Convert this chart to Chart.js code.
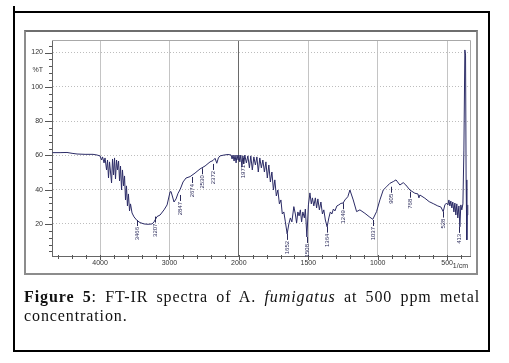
<!DOCTYPE html>
<html>
<head>
<meta charset="utf-8">
<script src="https://cdn.jsdelivr.net/npm/chart.js@4.4.0/dist/chart.umd.min.js"></script>
<style>
  html, body { margin: 0; padding: 0; background: #fff; }
  body { width: 509px; height: 363px; position: relative; overflow: hidden; }
  .box { position: absolute; left: 13px; top: 11px; width: 473px; height: 337px; border: 2px solid #000; }
  .nub { position: absolute; left: 13px; top: 6px; width: 2px; height: 6px; background: #000; }
  .frame { position: absolute; left: 24px; top: 30px; width: 450px; height: 241px; border: 2px solid #8c8c8c; border-top-color: #6e6e6e; }
  canvas { position: absolute; left: 0; top: 0; }
  .caption { position: absolute; left: 24px; top: 288px; width: 456px; font-family: "Liberation Serif", serif; font-size: 16px; letter-spacing: 0.9px; line-height: 18.5px; color: #111; }
  .l1 { text-align: justify; text-align-last: justify; white-space: nowrap; }
</style>
</head>
<body>
<div class="nub"></div>
<div class="box"></div>
<div class="frame"></div>
<canvas id="chart" width="509" height="363"></canvas>
<div class="caption">
  <div class="l1"><b>Figure 5</b>: FT-IR spectra of A. <i>fumigatus</i> at 500 ppm metal</div>
  <div>concentration.</div>
</div>
<script>
// spectrum (1/cm, %T)
const wavenumbers = [
  4685, 4576, 4476, 4403, 4331, 4216, 4101, 4043, 4000, 3978, 3964, 3942, 3928, 3906, 3892, 3878,
  3863, 3849, 3834, 3820, 3805, 3791, 3777, 3762, 3748, 3733, 3719, 3705, 3690, 3677, 3661, 3647,
  3633, 3619, 3605, 3591, 3575, 3561, 3539, 3510, 3467, 3424, 3366, 3308, 3251, 3222, 3179, 3135,
  3078, 3034, 2991, 2977, 2934, 2905, 2876, 2847, 2804, 2761, 2703, 2631, 2559, 2487, 2415, 2372,
  2343, 2318, 2295, 2271, 2213, 2156, 2112, 2098, 2084, 2069, 2055, 2040, 2026, 2012, 2000, 1993,
  1986, 1978, 1971, 1964, 1957, 1946, 1935, 1924, 1914, 1903, 1892, 1881, 1870, 1860, 1849, 1838,
  1827, 1816, 1805, 1795, 1784, 1773, 1762, 1751, 1741, 1730, 1719, 1708, 1697, 1687, 1676, 1665,
  1652, 1640, 1629, 1618, 1604, 1593, 1584, 1575, 1566, 1557, 1548, 1539, 1528, 1521, 1510, 1499,
  1488, 1478, 1470, 1460, 1449, 1440, 1431, 1420, 1409, 1398, 1388, 1377, 1364, 1352, 1341, 1330,
  1319, 1308, 1294, 1280, 1265, 1249, 1236, 1215, 1200, 1176, 1152, 1128, 1092, 1056, 1035, 1008,
  984, 960, 936, 912, 888, 868, 840, 816, 797, 768, 732, 710, 703, 696, 660, 629,
  596, 567, 545, 528, 516, 504, 494, 487, 480, 473, 466, 459, 451, 444, 437, 430,
  423, 415, 408, 401, 394, 386, 379, 372, 367, 363, 358, 355, 351
]
const transmittance = [
  61.6, 61.6, 61.7, 61.2, 60.8, 60.6, 60.6, 60.2, 59.7, 57.3, 59.1, 55.6, 58.5, 51.5, 57.3, 46.8,
  56.2, 50.3, 43.9, 57.9, 48.6, 58.5, 46.2, 57.3, 51.5, 56.7, 45.1, 53.8, 39.8, 51.5, 42.2, 48.0,
  34.0, 42.2, 30.5, 37.5, 27.6, 31.7, 26.4, 24.1, 22.0, 20.8, 20.0, 19.8, 20.0, 21.2, 24.3, 25.2,
  28.2, 31.1, 38.7, 38.9, 32.8, 34.6, 37.9, 40.0, 44.5, 46.8, 47.6, 49.7, 52.1, 53.8, 56.2, 57.0,
  58.3, 55.4, 58.5, 59.7, 60.2, 60.5, 60.2, 57.9, 60.2, 56.7, 60.2, 55.6, 60.2, 57.3, 60.2, 56.2,
  60.2, 53.2, 59.7, 55.0, 60.2, 55.6, 59.7, 52.7, 59.7, 51.5, 59.1, 54.4, 59.1, 50.3, 58.5, 52.7,
  57.3, 50.3, 56.2, 46.8, 54.4, 44.5, 50.3, 39.8, 45.7, 36.3, 39.8, 31.7, 34.0, 25.8, 27.0, 21.2,
  14.2, 20.0, 23.5, 21.2, 30.1, 25.8, 20.6, 27.0, 24.7, 28.2, 21.2, 27.0, 23.5, 28.7, 12.4, 31.1,
  38.1, 31.7, 35.2, 30.5, 35.2, 29.3, 34.6, 28.2, 32.8, 25.8, 28.2, 22.3, 18.3, 23.5, 27.0, 25.8,
  28.7, 27.6, 30.5, 31.1, 32.0, 32.2, 34.0, 35.9, 39.8, 34.0, 27.2, 28.2, 26.2, 23.9, 22.7, 27.2,
  34.0, 39.8, 41.7, 43.7, 44.7, 45.7, 42.7, 44.1, 42.7, 39.8, 37.9, 37.5, 35.2, 36.9, 35.0, 33.0,
  31.7, 30.5, 29.9, 27.2, 31.1, 32.2, 31.1, 34.0, 30.5, 33.4, 29.3, 32.8, 27.0, 32.2, 25.2, 31.7,
  23.5, 30.5, 18.3, 31.1, 28.2, 31.7, 63.1, 121.5, 118.5, 45.7, 10.7, 25.2, 31.1
]

// peak marks: position, %T where the leader starts, printed text
const peakWn = [3466, 3207, 2847, 2674, 2530, 2372, 1971, 1652, 1508, 1364, 1249, 1037, 905, 768, 528, 413]
const peakTop = [22.3, 24.3, 36.9, 47.4, 52.5, 55.0, 58.5, 14.2, 12.4, 18.4, 32.1, 22.3, 41.7, 38.8, 27.2, 18.3]
const peakText = ["3466", "3207", "2847", "2674", "2530", "2372", "1971", "1652", "1508", "1364", "1249", "1037", "905", "768", "528", "413"]

// axes
const majorWn = [4000, 3000, 2000, 1500, 1000, 500]
const yLabels = [20, 40, 60, 80, 100, 120]
const WN_LEFT = 4692
const WN_RIGHT = 335
const Y_MIN = 1.3
const Y_MAX = 127.3
const Y_MINOR = 4
const U_MINOR = 200

// the instrument doubles the scale below 2000 1/cm
const toU = (w) => (w >= 2000 ? w : 2 * w - 2000)
const fromU = (u) => (u >= 2000 ? u : (u + 2000) / 2)

const uTicks = []
for (let u = -1200; u <= 4600; u += U_MINOR) uTicks.push(u)
const yTicks = [110]
for (let v = Y_MINOR; v < Y_MAX; v += Y_MINOR) yTicks.push(v)

const points = wavenumbers.map((w, i) => ({ x: toU(w), y: transmittance[i] }))

const decor = {
    id: "decor",
    afterDatasetsDraw(chart) {
        const { ctx, chartArea: a, scales } = chart
        const x = scales.x
        const y = scales.y
        ctx.save()

        // light frame top / right
        ctx.strokeStyle = "#a8a8a8"
        ctx.lineWidth = 1
        ctx.beginPath()
        ctx.moveTo(a.left, a.top + 0.5)
        ctx.lineTo(a.right + 0.5, a.top + 0.5)
        ctx.lineTo(a.right + 0.5, a.bottom)
        ctx.stroke()

        // tick marks
        ctx.strokeStyle = "#555"
        ctx.beginPath()
        yTicks.forEach((v) => {
            if (v === 110) return
            const py = Math.round(y.getPixelForValue(v)) + 0.5
            const len = v % 20 === 0 ? 7 : 3
            ctx.moveTo(a.left - len, py)
            ctx.lineTo(a.left, py)
        })
        uTicks.forEach((u) => {
            const px = Math.round(x.getPixelForValue(u)) + 0.5
            const len = majorWn.includes(fromU(u)) ? 4 : 3
            ctx.moveTo(px, a.bottom - 1)
            ctx.lineTo(px, a.bottom + len)
        })
        ctx.stroke()

        // peak labels
        ctx.font = '6px "Liberation Sans", Arial, sans-serif'
        ctx.fillStyle = "#2a2a5a"
        ctx.strokeStyle = "#2a2a5a"
        ctx.textAlign = "right"
        ctx.textBaseline = "middle"
        peakWn.forEach((w, i) => {
            const px = Math.round(x.getPixelForValue(toU(w))) + 0.5
            const py = y.getPixelForValue(peakTop[i])
            ctx.beginPath()
            ctx.moveTo(px, py)
            ctx.lineTo(px, py + 6)
            ctx.stroke()
            ctx.save()
            ctx.translate(px, py + 7)
            ctx.rotate(-Math.PI / 2)
            ctx.fillText(peakText[i], 0, 0)
            ctx.restore()
        })

        // unit
        ctx.font = '7px "Liberation Sans", Arial, sans-serif'
        ctx.fillStyle = "#333"
        ctx.textAlign = "right"
        ctx.textBaseline = "middle"
        ctx.fillText("1/cm", a.right - 2, a.bottom + 10)
        ctx.restore()
    },
}

new Chart(document.getElementById("chart"), {
    type: "scatter",
    data: {
        datasets: [
            {
                data: points,
                showLine: true,
                borderColor: "#2b2b66",
                borderWidth: 1,
                pointRadius: 0,
                tension: 0,
            },
        ],
    },
    options: {
        responsive: false,
        animation: false,
        layout: { padding: { left: 0, top: 40, right: 39, bottom: 87 } },
        plugins: { legend: { display: false }, tooltip: { enabled: false } },
        scales: {
            x: {
                type: "linear",
                reverse: true,
                min: toU(WN_RIGHT),
                max: toU(WN_LEFT),
                afterBuildTicks: (s) => {
                    s.ticks = uTicks.map((v) => ({ value: v }))
                },
                afterFit: (s) => {
                    s.height = 20
                },
                ticks: {
                    autoSkip: false,
                    maxRotation: 0,
                    padding: 3,
                    color: "#333",
                    font: { size: 7, family: '"Liberation Sans", Arial, sans-serif' },
                    callback: (v) => (majorWn.includes(fromU(v)) ? String(fromU(v)) : ""),
                },
                grid: {
                    drawTicks: false,
                    color: (c) => {
                        if (!c.tick) return "transparent"
                        const w = fromU(c.tick.value)
                        if (w === 2000) return "#6a6a6a"
                        return majorWn.includes(w) ? "#c4c4c4" : "transparent"
                    },
                },
                border: { color: "#666" },
            },
            y: {
                min: Y_MIN,
                max: Y_MAX,
                afterBuildTicks: (s) => {
                    s.ticks = yTicks.map((v) => ({ value: v }))
                },
                afterFit: (s) => {
                    s.width = 52
                },
                ticks: {
                    autoSkip: false,
                    padding: 9,
                    color: "#333",
                    font: { size: 7, family: '"Liberation Sans", Arial, sans-serif' },
                    callback: (v) => (v === 110 ? "%T" : yLabels.includes(v) ? String(v) : ""),
                },
                grid: {
                    drawTicks: false,
                    color: (c) => (c.tick && yLabels.includes(c.tick.value) ? "#bdbdbd" : "transparent"),
                },
                border: { color: "#666", dash: [1, 2] },
            },
        },
    },
    plugins: [decor],
})
</script>
</body>
</html>
